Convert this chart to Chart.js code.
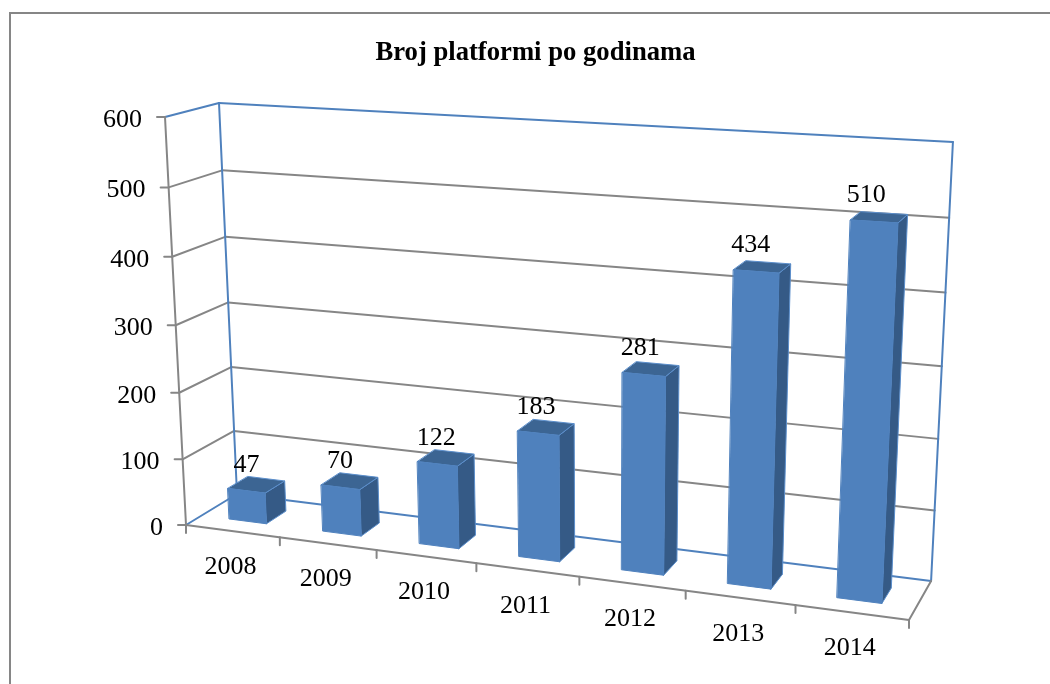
<!DOCTYPE html>
<html>
<head>
<meta charset="utf-8">
<title>Broj platformi po godinama</title>
<script src="https://cdn.jsdelivr.net/npm/chart.js@4"></script>
<style>
  html, body { margin: 0; padding: 0; background: #fff; overflow: hidden; }
  #wrap { position: absolute; left: 0; top: 0; width: 1050px; height: 684px; }
</style>
</head>
<body>
<div id="wrap"><canvas id="myChart" width="1050" height="684"></canvas></div>
<script>
const godine = ["2008", "2009", "2010", "2011", "2012", "2013", "2014"];
const platforme = [47, 70, 122, 183, 281, 434, 510];
const yMax = 600;
const yStep = 100;

// image of the unit cube (u along years, v up the values, d into the depth)
const O = [186, 525], PU = [909, 620], PV = [165, 117], PD = [237, 494];
const wU = -0.105, wV = -0.0406, wD = 0.045;
// the top right corner sits a bit further out than the pure perspective gives
const KOREKCIJA = [10.6, -6.3];

const PLAVA = "#4f81bd", BOK = "#355a86", VRH = "#3c6593", SIVA = "#868686";
const FONT = '26px "Liberation Serif"';

function proj(u, v, d) {
  const w = 1 + wU * u + wV * v + wD * d;
  return [0, 1].map(i => {
    const a = (1 + wU) * PU[i] - O[i];
    const b = (1 + wV) * PV[i] - O[i];
    const c = (1 + wD) * PD[i] - O[i];
    return (O[i] + a * u + b * v + c * d) / w + KOREKCIJA[i] * u * u * v;
  });
}

function line(ctx, a, b, color, width) {
  ctx.strokeStyle = color;
  ctx.lineWidth = width || 2;
  ctx.beginPath();
  ctx.moveTo(a[0], a[1]);
  ctx.lineTo(b[0], b[1]);
  ctx.stroke();
}

function poly(ctx, pts, fill, edge) {
  ctx.fillStyle = fill;
  ctx.strokeStyle = edge;
  ctx.lineWidth = 1;
  ctx.lineJoin = "round";
  ctx.beginPath();
  pts.forEach((p, i) => (i ? ctx.lineTo(p[0], p[1]) : ctx.moveTo(p[0], p[1])));
  ctx.closePath();
  ctx.fill();
  ctx.stroke();
}

// bars and axes are laid out by Chart.js, this only projects them to the 3D look
const projekcija = {
  id: "projekcija",
  afterDatasetsDraw(chart) {
    const ctx = chart.ctx;
    const area = chart.chartArea;
    const yScale = chart.scales.y;
    const nu = x => (x - area.left) / (area.right - area.left);
    const nv = y => (area.bottom - y) / (area.bottom - area.top);

    ctx.save();
    ctx.lineCap = "round";

    // gridlines on the two walls
    yScale.ticks.forEach(t => {
      const v = nv(yScale.getPixelForValue(t.value));
      const rub = t.value === yMax || t.value === 0;
      line(ctx, proj(0, v, 0), proj(0, v, 1), rub ? PLAVA : SIVA);
      line(ctx, proj(0, v, 1), proj(1, v, 1), rub ? PLAVA : SIVA);
      const k = proj(0, v, 0);
      line(ctx, [k[0] - 8, k[1]], k, SIVA);
    });
    line(ctx, proj(0, 0, 1), proj(0, 1, 1), PLAVA);
    line(ctx, proj(1, 0, 1), proj(1, 1, 1), PLAVA);
    line(ctx, proj(0, 0, 0), proj(0, 1, 0), SIVA);
    line(ctx, proj(0, 0, 0), proj(1, 0, 0), SIVA);
    line(ctx, proj(1, 0, 0), proj(1, 0, 1), SIVA);

    // ticks under the front edge
    for (let i = 0; i <= godine.length; i++) {
      const k = proj(i / godine.length, 0, 0);
      line(ctx, k, [k[0], k[1] + 8], SIVA);
    }

    // columns
    const d0 = 0.3, d1 = 0.7;
    chart.getDatasetMeta(0).data.forEach(bar => {
      const u0 = nu(bar.x - bar.width / 2), u1 = nu(bar.x + bar.width / 2);
      const v0 = nv(bar.base), v1 = nv(bar.y);
      const edge = "#5b8ecb";
      poly(ctx, [proj(u1, v0, d0), proj(u1, v0, d1), proj(u1, v1, d1), proj(u1, v1, d0)], BOK, edge);
      poly(ctx, [proj(u0, v1, d0), proj(u1, v1, d0), proj(u1, v1, d1), proj(u0, v1, d1)], VRH, edge);
      poly(ctx, [proj(u0, v0, d0), proj(u1, v0, d0), proj(u1, v1, d0), proj(u0, v1, d0)], PLAVA, PLAVA);
    });

    // texts
    ctx.fillStyle = "#000";
    ctx.font = FONT;
    ctx.textBaseline = "middle";
    ctx.textAlign = "right";
    yScale.ticks.forEach(t => {
      const k = proj(0, nv(yScale.getPixelForValue(t.value)), 0);
      ctx.fillText(String(t.value), k[0] - 23, k[1] + 3);
    });
    ctx.textAlign = "center";
    chart.getDatasetMeta(0).data.forEach((bar, i) => {
      const u = nu(bar.x);
      const vrh = proj(u, nv(bar.y), d0);
      ctx.fillText(String(platforme[i]), vrh[0] - 9 * u * u, vrh[1] - 26);
      const dno = proj(u, 0, 0);
      ctx.fillText(godine[i], dno[0] - 2, dno[1] + 36);
    });

    ctx.restore();
  }
};

const okvir = {
  id: "okvir",
  beforeDraw(chart) {
    const ctx = chart.ctx;
    ctx.save();
    ctx.strokeStyle = SIVA;
    ctx.lineWidth = 2;
    ctx.beginPath();
    ctx.moveTo(10, 700);
    ctx.lineTo(10, 13);
    ctx.lineTo(1060, 13);
    ctx.stroke();
    ctx.restore();
  }
};

new Chart(document.getElementById("myChart"), {
  type: "bar",
  data: {
    labels: godine,
    datasets: [{
      label: "Broj platformi",
      data: platforme,
      backgroundColor: "rgba(0,0,0,0)",
      categoryPercentage: 0.4,
      barPercentage: 1
    }]
  },
  options: {
    responsive: false,
    animation: false,
    layout: { padding: { left: 186, right: 165, top: 0, bottom: 60 } },
    plugins: {
      legend: { display: false },
      tooltip: { enabled: false },
      title: {
        display: true,
        text: "Broj platformi po godinama",
        color: "#000",
        font: { family: "Liberation Serif", size: 26.67, weight: "bold" },
        padding: { top: 37, bottom: 48 }
      }
    },
    scales: {
      x: { display: false },
      y: { display: false, min: 0, max: yMax, ticks: { stepSize: yStep } }
    }
  },
  plugins: [okvir, projekcija]
});
</script>
</body>
</html>
